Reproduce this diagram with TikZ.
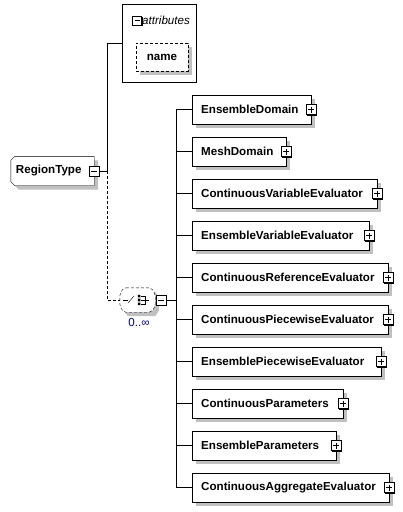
\documentclass[tikz,border=0pt]{standalone}
\usepackage{fontspec}
\setmainfont{Liberation Sans}
\usetikzlibrary{shadows,calc}
\definecolor{shadowgray}{HTML}{C0C0C0}
\definecolor{occurs}{HTML}{000080}
\pgfdeclarelayer{bg}
\pgfdeclarelayer{canvas}
\pgfsetlayers{canvas,bg,main}
\begin{document}
\begin{tikzpicture}[x=1pt,y=-1pt,line width=1pt,
  every node/.style={font=\fontsize{11.6pt}{13pt}\selectfont},
  elemshadow/.style={drop shadow={shadow xshift=4pt,shadow yshift=-4pt,fill=shadowgray,opacity=1}},
  childbox/.style={draw,fill=white,elemshadow,minimum height=29pt,inner xsep=9pt,inner ysep=0pt,
    align=left,font=\fontsize{11.6pt}{13pt}\selectfont\bfseries},
  togglebox/.style={draw,fill=white,minimum size=10pt,inner sep=0pt,line width=1pt,
    drop shadow={shadow xshift=1pt,shadow yshift=-1pt,fill=black,opacity=1}},
  minusbox/.style={togglebox,path picture={\draw[line width=1pt]
    ([xshift=2pt]path picture bounding box.west) -- ([xshift=-2pt]path picture bounding box.east);}},
  plusbox/.style={togglebox,path picture={\draw[line width=1pt]
    ([xshift=2pt]path picture bounding box.west) -- ([xshift=-2pt]path picture bounding box.east)
    ([yshift=-2pt]path picture bounding box.north) -- ([yshift=2pt]path picture bounding box.south);}},
  optline/.style={dash pattern=on 3pt off 2pt},
]
\begin{pgfonlayer}{canvas}
  \fill[white] (0,0) rectangle (403,512);
\end{pgfonlayer}
\useasboundingbox (0,0) rectangle (403,512);

% attributes group
\node[draw,minimum width=74pt,minimum height=78pt,inner sep=0pt] (attrs) at (159,43) {};
\node[minusbox,minimum size=9pt] (amin) at (137,20.5) {};
\node[anchor=west,inner sep=0pt,font=\fontsize{11.6pt}{13pt}\selectfont\itshape] (atext) at (amin.east) {attributes};
\node[draw,fill=white,optline,elemshadow,minimum width=52pt,minimum height=28pt,inner sep=0pt,
  font=\fontsize{11.6pt}{13pt}\selectfont\bfseries] (name) at (162,57) {name};

% complex type
\node[text width=73pt,inner xsep=5pt,inner ysep=0pt,minimum height=29pt,align=left,
  font=\fontsize{11.6pt}{13pt}\selectfont\bfseries] (rt) at (52.5,171) {RegionType};
\begin{pgfonlayer}{bg}
  \fill[shadowgray,transform canvas={shift={(4pt,-4pt)}}]
    ([xshift=4pt]rt.north west) -- (rt.north east) -- (rt.south east) -- ([xshift=4pt]rt.south west)
    -- ([yshift=4pt]rt.south west) -- ([yshift=-4pt]rt.north west) -- cycle;
  \draw[fill=white]
    ([xshift=4pt]rt.north west) -- (rt.north east) -- (rt.south east) -- ([xshift=4pt]rt.south west)
    -- ([yshift=4pt]rt.south west) -- ([yshift=-4pt]rt.north west) -- cycle;
\end{pgfonlayer}
\node[minusbox] (rtmin) at (rt.east) {};

% choice compositor
\node[minimum width=35pt,minimum height=24pt,inner sep=0pt] (choice) at (137.5,300) {};
\begin{pgfonlayer}{bg}
  \fill[shadowgray,transform canvas={shift={(4pt,-4pt)}}]
    ([xshift=4pt]choice.north west) -- ([xshift=-4pt]choice.north east) -- ([yshift=-6pt]choice.north east)
    -- ([yshift=6pt]choice.south east) -- ([xshift=-4pt]choice.south east) -- ([xshift=4pt]choice.south west)
    -- ([yshift=6pt]choice.south west) -- ([yshift=-6pt]choice.north west) -- cycle;
  \draw[fill=white,optline,rounded corners=2pt]
    ([xshift=4pt]choice.north west) -- ([xshift=-4pt]choice.north east) -- ([yshift=-6pt]choice.north east)
    -- ([yshift=6pt]choice.south east) -- ([xshift=-4pt]choice.south east) -- ([xshift=4pt]choice.south west)
    -- ([yshift=6pt]choice.south west) -- ([yshift=-6pt]choice.north west) -- cycle;
\end{pgfonlayer}
% switch symbol
\draw (123,300) -- (128,300);
\draw (128,303) -- (134,296);
\fill (137.8,294.8) rectangle (140.4,297.4) (137.8,298.7) rectangle (140.4,301.3) (137.8,302.6) rectangle (140.4,305.2);
\draw (141,296) -- (145,296) -- (145,304) -- (141,304);
\draw (141,300) -- (149,300);
\node[minusbox] (chmin) at (161,300) {};
\node[text=occurs,inner sep=0pt] (occ) at (139,322.5) {0..\raisebox{0.3pt}{∞}};

% connectors of the complex type
\coordinate (j) at (107,171);
\draw (rtmin.east) -- (j) |- (attrs.west);
\draw[optline] (j) |- (choice.west);

% children of the choice
\coordinate (bustop) at (176,109.5);
\coordinate (busbot) at (176,487.5);
\draw (bustop) -- (busbot);
\draw (chmin.east) -- (chmin.east -| bustop);
\foreach \i/\nm/\r in {
  1/EnsembleDomain/311,
  2/MeshDomain/286,
  3/ContinuousVariableEvaluator/377,
  4/EnsembleVariableEvaluator/369,
  5/ContinuousReferenceEvaluator/388,
  6/ContinuousPiecewiseEvaluator/388,
  7/EnsemblePiecewiseEvaluator/381,
  8/ContinuousParameters/343,
  9/EnsembleParameters/336,
  10/ContinuousAggregateEvaluator/389}{
  \pgfmathsetmacro\tw{\r-210}
  \node[childbox,text width=\tw pt,anchor=west] (c\i) at (192,{109.5+42*(\i-1)}) {\nm};
  \node[plusbox] (p\i) at (c\i.east) {};
  \draw (c\i.west -| bustop) -- (c\i.west);
}
\end{tikzpicture}
\end{document}
